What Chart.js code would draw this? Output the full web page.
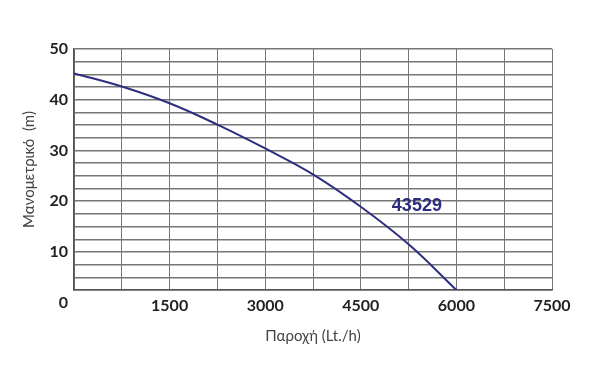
<!DOCTYPE html>
<html>
<head>
<meta charset="utf-8">
<script src="https://cdn.jsdelivr.net/npm/chart.js@4"></script>
<style>
    html, body { margin: 0; padding: 0; background: #fff; }
    #wrap { width: 590px; height: 372px; }
</style>
</head>
<body>
<div id="wrap"><canvas id="chart"></canvas></div>
<script>
// pump curve
const flow = [0, 750, 1500, 2250, 3000, 3750, 4500, 5250, 6000];
const head = [45.2, 42.6, 39.3, 35.1, 30.4, 25.3, 18.9, 11.5, 2.5];
const curveName = '43529';
const xTicks = [1500, 3000, 4500, 6000, 7500];
const yTicks = [10, 20, 30, 40, 50];

const navy = '#2d2f7e';
const tickFont = { family: 'Lato', size: 16, weight: 'bold' };
const titleFont = { family: 'Lato', size: 15 };

const points = flow.map((f, i) => ({ x: f, y: head[i] }));

// the "0" under the y labels and the curve's name
const extras = {
    id: 'extras',
    afterDraw(chart) {
        const ctx = chart.ctx;
        const x = chart.scales.x;
        const y = chart.scales.y;
        ctx.save();
        ctx.font = 'bold 16px Lato';
        ctx.fillStyle = '#222';
        ctx.textAlign = 'right';
        ctx.textBaseline = 'middle';
        ctx.fillText('0', y.right - 6, y.getPixelForValue(0));

        ctx.font = 'bold 18px "Liberation Sans"';
        ctx.fillStyle = navy;
        ctx.textAlign = 'center';
        ctx.fillText(curveName, x.getPixelForValue(5380), y.getPixelForValue(19));
        ctx.restore();
    }
};

new Chart(document.getElementById('chart'), {
    type: 'line',
    data: {
        datasets: [{
            data: points,
            borderColor: navy,
            borderWidth: 2,
            pointRadius: 0,
            fill: false,
            tension: 0.4
        }]
    },
    options: {
        responsive: true,
        maintainAspectRatio: false,
        animation: false,
        layout: { padding: { left: 0, right: 38, top: 49, bottom: 0 } },
        plugins: { legend: { display: false }, tooltip: { enabled: false } },
        scales: {
            x: {
                type: 'linear',
                min: 0,
                max: 7500,
                afterFit: s => { s.height = 82; },
                ticks: {
                    stepSize: 750,
                    autoSkip: false,
                    maxRotation: 0,
                    padding: 6,
                    color: '#222',
                    font: tickFont,
                    callback: v => xTicks.includes(v) ? String(v) : ''
                },
                grid: { color: '#777', lineWidth: 1, drawTicks: false },
                border: { color: '#555', width: 1.5 },
                title: {
                    display: true,
                    text: 'Παροχή (Lt./h)',
                    color: '#444',
                    font: titleFont,
                    align: 'center',
                    padding: { top: 0, bottom: 27 }
                }
            },
            y: {
                min: 2.5,
                max: 50,
                afterFit: s => { s.width = 74; },
                ticks: {
                    stepSize: 2.5,
                    autoSkip: false,
                    padding: 6,
                    color: '#222',
                    font: tickFont,
                    callback: v => yTicks.includes(v) ? String(v) : ''
                },
                grid: { color: '#777', lineWidth: 1.5, drawTicks: false },
                border: { color: '#555', width: 1.5 },
                title: {
                    display: true,
                    text: 'Μανομετρικό  (m)',
                    color: '#444',
                    font: titleFont,
                    padding: { top: 20, bottom: 0 }
                }
            }
        }
    },
    plugins: [extras]
});
</script>
</body>
</html>
